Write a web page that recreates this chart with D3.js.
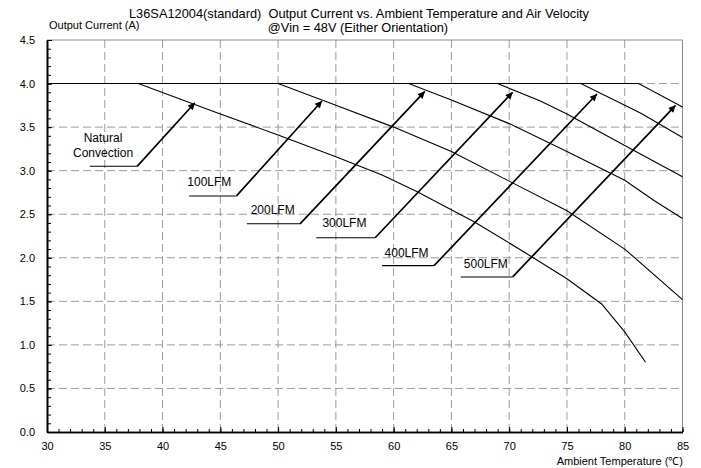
<!DOCTYPE html>
<html>
<head>
<meta charset="utf-8">
<script src="https://cdn.jsdelivr.net/npm/d3@7"></script>
<style>
  body { margin: 0; background: #fff; }
  text { font-family: "Liberation Sans", Arial, sans-serif; }
</style>
</head>
<body>
<script>
// derating curves: ambient temperature (C) / output current (A)
var natT = [30, 37.9, 45, 50, 55, 59, 62, 67, 71, 75, 78, 80, 81.8];
var natI = [4.0, 4.0, 3.65, 3.41, 3.16, 2.95, 2.76, 2.41, 2.09, 1.76, 1.47, 1.15, 0.80];
var lfm100T = [30, 50, 55, 60, 65, 70, 75, 80, 85];
var lfm100I = [4.0, 4.0, 3.75, 3.50, 3.22, 2.88, 2.54, 2.10, 1.52];
var lfm200T = [30, 61.3, 65, 70, 75, 80, 82.5, 85];
var lfm200I = [4.0, 4.0, 3.81, 3.54, 3.22, 2.89, 2.66, 2.45];
var lfm300T = [30, 69, 72.7, 75, 80, 85];
var lfm300I = [4.0, 4.0, 3.80, 3.65, 3.29, 2.93];
var lfm400T = [30, 76.2, 81.4, 85];
var lfm400I = [4.0, 4.0, 3.66, 3.38];
var lfm500T = [30, 81.2, 85];
var lfm500I = [4.0, 4.0, 3.73];

// callouts (data units)
var labels = ["Natural\nConvection", "100LFM", "200LFM", "300LFM", "400LFM", "500LFM"];
var labelT = [34.85, 44.05, 49.53, 55.74, 61.12, 67.98];
var labelI = [3.33, 2.824, 2.503, 2.357, 2.012, 1.886];
var leadStartT = [33.7, 42.3, 47.3, 53.3, 59.0, 65.8];
var leadElbowT = [37.8, 46.4, 51.9, 58.4, 63.5, 70.3];
var leadI = [3.05, 2.71, 2.39, 2.23, 1.91, 1.78];
var tipT = [42.8, 53.8, 62.7, 70.3, 77.6, 84.4];
var tipI = [3.78, 3.80, 3.91, 3.90, 3.88, 3.75];

var xMajor = [30, 35, 40, 45, 50, 55, 60, 65, 70, 75, 80, 85];
var yMajor = [0, 0.5, 1.0, 1.5, 2.0, 2.5, 3.0, 3.5, 4.0, 4.5];

var W = 701, H = 468;
var svg = d3.select("body").append("svg")
    .attr("width", W)
    .attr("height", H);

var x = d3.scaleLinear().domain([30, 85]).range([47, 682.5]);
var y = d3.scaleLinear().domain([0, 4.5]).range([432, 40]);

svg.append("defs").append("marker")
    .attr("id", "arr")
    .attr("viewBox", "0 0 10 10")
    .attr("refX", 10)
    .attr("refY", 5)
    .attr("markerWidth", 9)
    .attr("markerHeight", 7)
    .attr("markerUnits", "userSpaceOnUse")
    .attr("orient", "auto")
    .append("path")
    .attr("d", "M0,0L10,5L0,10z")
    .attr("fill", "#000");

// grid
svg.selectAll("line.vg")
    .data(xMajor.slice(1, -1))
    .enter().append("line")
    .attr("x1", function(d) { return x(d); })
    .attr("x2", function(d) { return x(d); })
    .attr("y1", y(0)).attr("y2", y(4.5))
    .attr("stroke", "#9a9a9a")
    .attr("stroke-dasharray", "8,4");
svg.selectAll("line.hg")
    .data(yMajor.slice(1, -1))
    .enter().append("line")
    .attr("y1", function(d) { return y(d); })
    .attr("y2", function(d) { return y(d); })
    .attr("x1", x(30)).attr("x2", x(85))
    .attr("stroke", "#9a9a9a")
    .attr("stroke-dasharray", "8,4");

// top / right frame
svg.append("path")
    .attr("d", "M" + x(30) + "," + y(4.5) + "H" + x(85) + "V" + y(0))
    .attr("fill", "none")
    .attr("stroke", "#8a8a8a");

// curves
var curves = [[natT, natI], [lfm100T, lfm100I], [lfm200T, lfm200I],
              [lfm300T, lfm300I], [lfm400T, lfm400I], [lfm500T, lfm500I]];
var line = d3.line()
    .x(function(d) { return x(d[0]); })
    .y(function(d) { return y(d[1]); });
svg.selectAll("path.curve")
    .data(curves)
    .enter().append("path")
    .attr("class", "curve")
    .attr("d", function(c) { return line(d3.zip(c[0], c[1])); })
    .attr("fill", "none")
    .attr("stroke", "#000")
    .attr("stroke-width", 1.1);

// axes
var xMinor = d3.axisBottom(x).tickValues(d3.range(30, 86, 1)).tickSize(-3).tickFormat("").tickSizeOuter(0);
var yMinor = d3.axisLeft(y).tickValues(d3.range(0, 46, 1).map(function(d) { return d / 10; })).tickSize(-4).tickFormat("").tickSizeOuter(0);
var xAx = d3.axisBottom(x).tickValues(xMajor).tickSize(-5).tickSizeOuter(0).tickPadding(10).tickFormat(d3.format("d"));
var yAx = d3.axisLeft(y).tickValues(yMajor).tickSize(-5).tickSizeOuter(0).tickPadding(12).tickFormat(d3.format(".1f"));

[xMinor, xAx].forEach(function(a) {
    svg.append("g").attr("transform", "translate(0," + y(0) + ")").call(a);
});
[yMinor, yAx].forEach(function(a) {
    svg.append("g").attr("transform", "translate(" + x(30) + ",0)").call(a);
});
svg.selectAll(".domain").attr("stroke", "#000").attr("stroke-width", 1.6);
svg.selectAll(".tick line").attr("stroke", "#000");
svg.selectAll(".tick text").attr("font-size", "11px").attr("fill", "#000")
    .style("font-family", "'Liberation Sans', Arial, sans-serif");

// callouts
labels.forEach(function(lab, i) {
    svg.append("line")
        .attr("x1", x(leadStartT[i])).attr("y1", y(leadI[i]))
        .attr("x2", x(leadElbowT[i])).attr("y2", y(leadI[i]))
        .attr("stroke", "#000").attr("stroke-width", 1.1);
    svg.append("line")
        .attr("x1", x(leadElbowT[i])).attr("y1", y(leadI[i]))
        .attr("x2", x(tipT[i])).attr("y2", y(tipI[i]))
        .attr("stroke", "#000").attr("stroke-width", 1.7)
        .attr("marker-end", "url(#arr)");
    var t = svg.append("text")
        .attr("x", x(labelT[i]))
        .attr("y", y(labelI[i]))
        .attr("text-anchor", "middle")
        .attr("font-size", "12px");
    lab.split("\n").forEach(function(s, k) {
        t.append("tspan").attr("x", x(labelT[i])).attr("dy", k ? 15 : 0).text(s);
    });
});

// titles
svg.append("text").attr("x", 359).attr("y", 18).attr("text-anchor", "middle")
    .attr("font-size", "12.8px").text("L36SA12004(standard)  Output Current vs. Ambient Temperature and Air Velocity")
    .attr("xml:space", "preserve").style("white-space", "pre");
svg.append("text").attr("x", 358).attr("y", 32).attr("text-anchor", "middle")
    .attr("font-size", "12.8px").text("@Vin = 48V (Either Orientation)");
svg.append("text").attr("x", 49).attr("y", 29)
    .attr("font-size", "11px").text("Output Current (A)");
svg.append("text").attr("x", 683).attr("y", 465).attr("text-anchor", "end")
    .attr("font-size", "11px").text("Ambient Temperature (℃)");
</script>
</body>
</html>
